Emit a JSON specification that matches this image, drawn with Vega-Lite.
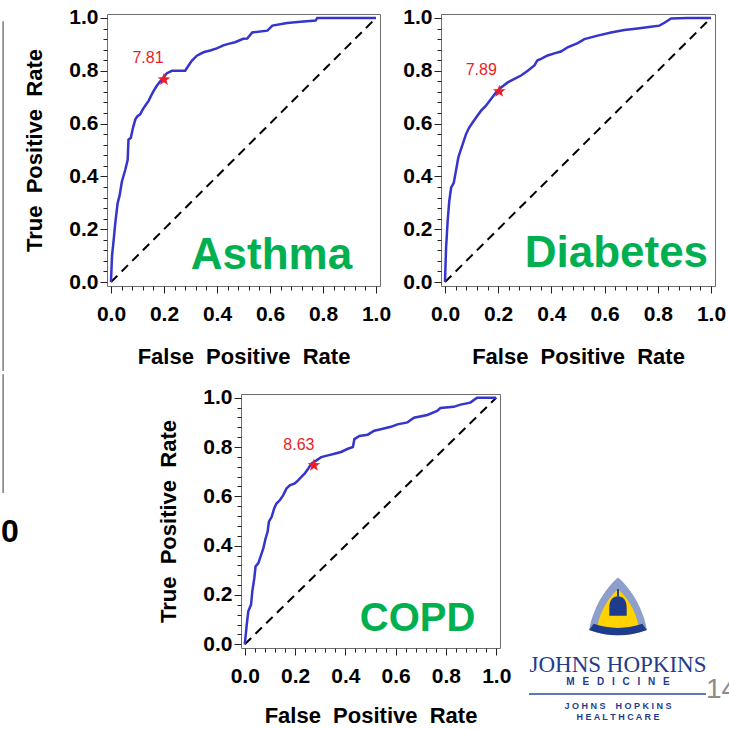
{
  "$schema": "https://vega.github.io/schema/vega-lite/v6.json",
  "background": "white",
  "padding": {"left": 0, "top": 6, "right": 0, "bottom": 0},
  "config": {
    "view": {"stroke": null},
    "font": "Liberation Sans",
    "axis": {
      "labelFont": "Liberation Sans", "labelFontSize": 21, "labelFontWeight": "bold", "labelColor": "black",
      "titleFont": "Liberation Sans", "titleFontSize": 22, "titleFontWeight": "bold", "titleColor": "black",
      "domain": false, "grid": false, "tickColor": "#222222", "tickWidth": 1, "labelFlush": false, "labelOverlap": false
    }
  },
  "datasets": {
    "diag": [{"fpr": 0, "tpr": 0}, {"fpr": 1, "tpr": 1}],
    "asthma": [
      {"fpr":0,"tpr":0},{"fpr":0.004,"tpr":0.1},{"fpr":0.01,"tpr":0.158},{"fpr":0.016,"tpr":0.221},{"fpr":0.025,"tpr":0.298},
      {"fpr":0.033,"tpr":0.33},{"fpr":0.041,"tpr":0.38},{"fpr":0.054,"tpr":0.425},{"fpr":0.063,"tpr":0.463},{"fpr":0.066,"tpr":0.539},
      {"fpr":0.075,"tpr":0.546},{"fpr":0.083,"tpr":0.584},{"fpr":0.092,"tpr":0.616},{"fpr":0.1,"tpr":0.628},{"fpr":0.11,"tpr":0.635},
      {"fpr":0.12,"tpr":0.654},{"fpr":0.133,"tpr":0.673},{"fpr":0.142,"tpr":0.686},{"fpr":0.151,"tpr":0.705},{"fpr":0.161,"tpr":0.724},
      {"fpr":0.173,"tpr":0.743},{"fpr":0.192,"tpr":0.768},{"fpr":0.211,"tpr":0.791},{"fpr":0.23,"tpr":0.8},{"fpr":0.28,"tpr":0.8},
      {"fpr":0.292,"tpr":0.819},{"fpr":0.305,"tpr":0.838},{"fpr":0.324,"tpr":0.857},{"fpr":0.349,"tpr":0.87},{"fpr":0.374,"tpr":0.877},
      {"fpr":0.399,"tpr":0.885},{"fpr":0.424,"tpr":0.896},{"fpr":0.443,"tpr":0.902},{"fpr":0.468,"tpr":0.908},{"fpr":0.499,"tpr":0.921},
      {"fpr":0.514,"tpr":0.922},{"fpr":0.533,"tpr":0.945},{"fpr":0.59,"tpr":0.952},{"fpr":0.609,"tpr":0.971},{"fpr":0.665,"tpr":0.981},
      {"fpr":0.715,"tpr":0.986},{"fpr":0.772,"tpr":0.99},{"fpr":0.778,"tpr":1},{"fpr":1,"tpr":1}
    ],
    "diabetes": [
      {"fpr":0,"tpr":0},{"fpr":0.004,"tpr":0.128},{"fpr":0.01,"tpr":0.23},{"fpr":0.016,"tpr":0.306},{"fpr":0.023,"tpr":0.357},
      {"fpr":0.033,"tpr":0.376},{"fpr":0.041,"tpr":0.42},{"fpr":0.05,"tpr":0.471},{"fpr":0.06,"tpr":0.503},{"fpr":0.066,"tpr":0.52},
      {"fpr":0.079,"tpr":0.56},{"fpr":0.091,"tpr":0.585},{"fpr":0.104,"tpr":0.604},{"fpr":0.117,"tpr":0.623},{"fpr":0.135,"tpr":0.648},
      {"fpr":0.154,"tpr":0.668},{"fpr":0.173,"tpr":0.693},{"fpr":0.192,"tpr":0.718},{"fpr":0.211,"tpr":0.737},{"fpr":0.236,"tpr":0.756},
      {"fpr":0.261,"tpr":0.769},{"fpr":0.286,"tpr":0.782},{"fpr":0.311,"tpr":0.8},{"fpr":0.336,"tpr":0.82},{"fpr":0.348,"tpr":0.84},
      {"fpr":0.361,"tpr":0.845},{"fpr":0.386,"tpr":0.858},{"fpr":0.411,"tpr":0.866},{"fpr":0.436,"tpr":0.873},{"fpr":0.461,"tpr":0.889},
      {"fpr":0.499,"tpr":0.905},{"fpr":0.524,"tpr":0.92},{"fpr":0.574,"tpr":0.933},{"fpr":0.624,"tpr":0.945},{"fpr":0.674,"tpr":0.954},
      {"fpr":0.724,"tpr":0.96},{"fpr":0.774,"tpr":0.967},{"fpr":0.806,"tpr":0.971},{"fpr":0.825,"tpr":0.982},{"fpr":0.85,"tpr":0.998},
      {"fpr":0.912,"tpr":1},{"fpr":1,"tpr":1}
    ],
    "copd": [
      {"fpr":0,"tpr":0},{"fpr":0.008,"tpr":0.081},{"fpr":0.014,"tpr":0.134},{"fpr":0.025,"tpr":0.161},{"fpr":0.03,"tpr":0.215},
      {"fpr":0.038,"tpr":0.269},{"fpr":0.043,"tpr":0.316},{"fpr":0.054,"tpr":0.329},{"fpr":0.065,"tpr":0.363},{"fpr":0.074,"tpr":0.39},
      {"fpr":0.083,"tpr":0.43},{"fpr":0.091,"tpr":0.457},{"fpr":0.096,"tpr":0.497},{"fpr":0.107,"tpr":0.517},{"fpr":0.117,"tpr":0.551},
      {"fpr":0.126,"tpr":0.571},{"fpr":0.14,"tpr":0.585},{"fpr":0.153,"tpr":0.605},{"fpr":0.166,"tpr":0.632},{"fpr":0.179,"tpr":0.645},
      {"fpr":0.199,"tpr":0.652},{"fpr":0.212,"tpr":0.665},{"fpr":0.225,"tpr":0.679},{"fpr":0.238,"tpr":0.692},{"fpr":0.252,"tpr":0.712},
      {"fpr":0.265,"tpr":0.733},{"fpr":0.285,"tpr":0.746},{"fpr":0.304,"tpr":0.759},{"fpr":0.331,"tpr":0.766},{"fpr":0.357,"tpr":0.773},
      {"fpr":0.383,"tpr":0.78},{"fpr":0.41,"tpr":0.793},{"fpr":0.43,"tpr":0.8},{"fpr":0.436,"tpr":0.832},{"fpr":0.456,"tpr":0.845},
      {"fpr":0.489,"tpr":0.85},{"fpr":0.515,"tpr":0.866},{"fpr":0.541,"tpr":0.872},{"fpr":0.581,"tpr":0.882},{"fpr":0.607,"tpr":0.892},
      {"fpr":0.647,"tpr":0.9},{"fpr":0.673,"tpr":0.919},{"fpr":0.726,"tpr":0.93},{"fpr":0.765,"tpr":0.946},{"fpr":0.778,"tpr":0.958},
      {"fpr":0.831,"tpr":0.963},{"fpr":0.858,"tpr":0.972},{"fpr":0.897,"tpr":0.98},{"fpr":0.924,"tpr":1},{"fpr":1,"tpr":1}
    ]
  },
  "spacing": 0,
  "vconcat": [
    {
      "bounds": "flush",
      "spacing": 61,
      "hconcat": [
        {
          "width": 273, "height": 272,
          "view": {"stroke": "#6e6e6e", "strokeWidth": 1},
          "resolve": {"axis": {"x": "independent", "y": "independent"}},
          "layer": [
            {
              "data": {"name": "diag"},
              "mark": {"type": "line", "color": "black", "strokeWidth": 2, "strokeDash": [9, 6]},
              "encoding": {
                "x": {"field": "fpr", "type": "quantitative", "scale": {"domain": [-0.015, 1.015], "nice": false, "zero": false},
                  "axis": {"orient": "bottom", "values": [0, 0.2, 0.4, 0.6, 0.8, 1], "format": ".1f", "tickSize": 7,
                    "labelPadding": 10, "titlePadding": 22, "title": "False\u00a0 Positive\u00a0 Rate"}},
                "y": {"field": "tpr", "type": "quantitative", "scale": {"domain": [-0.015, 1.015], "nice": false, "zero": false},
                  "axis": {"orient": "left", "values": [0, 0.2, 0.4, 0.6, 0.8, 1], "format": ".1f", "tickSize": 7,
                    "labelPadding": 2, "titlePadding": 22, "title": "True\u00a0 Positive\u00a0 Rate"}}
              }
            },
            {
              "data": {"name": "asthma"},
              "mark": {"type": "line", "color": "#3535cc", "strokeWidth": 2.5},
              "encoding": {
                "x": {"field": "fpr", "type": "quantitative",
                  "axis": {"orient": "bottom", "values": [0.04,0.08,0.12,0.16,0.24,0.28,0.32,0.36,0.44,0.48,0.52,0.56,0.64,0.68,0.72,0.76,0.84,0.88,0.92,0.96], "labels": false, "tickSize": 4, "title": null}},
                "y": {"field": "tpr", "type": "quantitative",
                  "axis": {"orient": "left", "values": [0.04,0.08,0.12,0.16,0.24,0.28,0.32,0.36,0.44,0.48,0.52,0.56,0.64,0.68,0.72,0.76,0.84,0.88,0.92,0.96], "labels": false, "tickSize": 4, "title": null}}
              }
            },
            {
              "data": {"values": [{"fpr": 0.2, "tpr": 0.767, "cut": "7.81"}]},
              "layer": [
                {"mark": {"type": "point", "shape": "M0,-1L0.235,-0.324L0.951,-0.309L0.38,0.124L0.588,0.809L0,0.4L-0.588,0.809L-0.38,0.124L-0.951,-0.309L-0.235,-0.324Z", "filled": true, "color": "#ee1c25", "size": 180, "opacity": 1},
                  "encoding": {"x": {"field": "fpr", "type": "quantitative", "axis": null}, "y": {"field": "tpr", "type": "quantitative", "axis": null}}},
                {"mark": {"type": "text", "color": "#ee1c25", "fontSize": 16, "dx": -16, "dy": -21, "baseline": "middle", "align": "center"},
                  "encoding": {"x": {"field": "fpr", "type": "quantitative", "axis": null}, "y": {"field": "tpr", "type": "quantitative", "axis": null}, "text": {"field": "cut"}}}
              ]
            },
            {
              "data": {"values": [{"name": "Asthma"}]},
              "mark": {"type": "text", "color": "#00b050", "fontSize": 44, "fontWeight": "bold", "align": "right", "baseline": "alphabetic"},
              "encoding": {"x": {"datum": 0.91, "type": "quantitative", "axis": null}, "y": {"datum": 0.05, "type": "quantitative", "axis": null}, "text": {"field": "name"}}
            },
            {
              "data": {"values": [{"edge": "left"}]},
              "mark": {"type": "rule", "color": "#7a7a7a", "strokeWidth": 1.5},
              "encoding": {"x": {"datum": -0.407, "type": "quantitative", "axis": null}, "y": {"datum": 0.988, "type": "quantitative", "axis": null}, "y2": {"datum": -0.337}}
            }
          ]
        },
        {
          "width": 274, "height": 272,
          "view": {"stroke": "#6e6e6e", "strokeWidth": 1},
          "resolve": {"axis": {"x": "independent", "y": "independent"}},
          "layer": [
            {
              "data": {"name": "diag"},
              "mark": {"type": "line", "color": "black", "strokeWidth": 2, "strokeDash": [9, 6]},
              "encoding": {
                "x": {"field": "fpr", "type": "quantitative", "scale": {"domain": [-0.015, 1.015], "nice": false, "zero": false},
                  "axis": {"orient": "bottom", "values": [0, 0.2, 0.4, 0.6, 0.8, 1], "format": ".1f", "tickSize": 7,
                    "labelPadding": 10, "titlePadding": 22, "title": "False\u00a0 Positive\u00a0 Rate"}},
                "y": {"field": "tpr", "type": "quantitative", "scale": {"domain": [-0.015, 1.015], "nice": false, "zero": false},
                  "axis": {"orient": "left", "values": [0, 0.2, 0.4, 0.6, 0.8, 1], "format": ".1f", "tickSize": 7,
                    "labelPadding": 2, "title": null}}
              }
            },
            {
              "data": {"name": "diabetes"},
              "mark": {"type": "line", "color": "#3535cc", "strokeWidth": 2.5},
              "encoding": {
                "x": {"field": "fpr", "type": "quantitative",
                  "axis": {"orient": "bottom", "values": [0.04,0.08,0.12,0.16,0.24,0.28,0.32,0.36,0.44,0.48,0.52,0.56,0.64,0.68,0.72,0.76,0.84,0.88,0.92,0.96], "labels": false, "tickSize": 4, "title": null}},
                "y": {"field": "tpr", "type": "quantitative",
                  "axis": {"orient": "left", "values": [0.04,0.08,0.12,0.16,0.24,0.28,0.32,0.36,0.44,0.48,0.52,0.56,0.64,0.68,0.72,0.76,0.84,0.88,0.92,0.96], "labels": false, "tickSize": 4, "title": null}}
              }
            },
            {
              "data": {"values": [{"fpr": 0.204, "tpr": 0.722, "cut": "7.89"}]},
              "layer": [
                {"mark": {"type": "point", "shape": "M0,-1L0.235,-0.324L0.951,-0.309L0.38,0.124L0.588,0.809L0,0.4L-0.588,0.809L-0.38,0.124L-0.951,-0.309L-0.235,-0.324Z", "filled": true, "color": "#ee1c25", "size": 180, "opacity": 1},
                  "encoding": {"x": {"field": "fpr", "type": "quantitative", "axis": null}, "y": {"field": "tpr", "type": "quantitative", "axis": null}}},
                {"mark": {"type": "text", "color": "#ee1c25", "fontSize": 16, "dx": -18, "dy": -21, "baseline": "middle", "align": "center"},
                  "encoding": {"x": {"field": "fpr", "type": "quantitative", "axis": null}, "y": {"field": "tpr", "type": "quantitative", "axis": null}, "text": {"field": "cut"}}}
              ]
            },
            {
              "data": {"values": [{"name": "Diabetes"}]},
              "mark": {"type": "text", "color": "#00b050", "fontSize": 44, "fontWeight": "bold", "align": "right", "baseline": "alphabetic"},
              "encoding": {"x": {"datum": 0.989, "type": "quantitative", "axis": null}, "y": {"datum": 0.057, "type": "quantitative", "axis": null}, "text": {"field": "name"}}
            }
          ]
        }
      ]
    },
    {
      "bounds": "flush",
      "spacing": 26,
      "hconcat": [
        {
          "width": 108, "height": 10,
          "data": {"values": [{"a": 1}]},
          "mark": {"type": "point", "opacity": 0},
          "encoding": {}
        },
        {
          "width": 259, "height": 254,
          "view": {"stroke": "#6e6e6e", "strokeWidth": 1},
          "resolve": {"axis": {"x": "independent", "y": "independent"}},
          "layer": [
            {
              "data": {"name": "diag"},
              "mark": {"type": "line", "color": "black", "strokeWidth": 2, "strokeDash": [9, 6]},
              "encoding": {
                "x": {"field": "fpr", "type": "quantitative", "scale": {"domain": [-0.015, 1.015], "nice": false, "zero": false},
                  "axis": {"orient": "bottom", "values": [0, 0.2, 0.4, 0.6, 0.8, 1], "format": ".1f", "tickSize": 7,
                    "labelPadding": 10, "titlePadding": 19, "title": "False\u00a0 Positive\u00a0 Rate"}},
                "y": {"field": "tpr", "type": "quantitative", "scale": {"domain": [-0.015, 1.015], "nice": false, "zero": false},
                  "axis": {"orient": "left", "values": [0, 0.2, 0.4, 0.6, 0.8, 1], "format": ".1f", "tickSize": 7,
                    "labelPadding": 2, "titlePadding": 22, "title": "True\u00a0 Positive\u00a0 Rate"}}
              }
            },
            {
              "data": {"name": "copd"},
              "mark": {"type": "line", "color": "#3535cc", "strokeWidth": 2.5},
              "encoding": {
                "x": {"field": "fpr", "type": "quantitative",
                  "axis": {"orient": "bottom", "values": [0.04,0.08,0.12,0.16,0.24,0.28,0.32,0.36,0.44,0.48,0.52,0.56,0.64,0.68,0.72,0.76,0.84,0.88,0.92,0.96], "labels": false, "tickSize": 4, "title": null}},
                "y": {"field": "tpr", "type": "quantitative",
                  "axis": {"orient": "left", "values": [0.04,0.08,0.12,0.16,0.24,0.28,0.32,0.36,0.44,0.48,0.52,0.56,0.64,0.68,0.72,0.76,0.84,0.88,0.92,0.96], "labels": false, "tickSize": 4, "title": null}}
              }
            },
            {
              "data": {"values": [{"fpr": 0.275, "tpr": 0.726, "cut": "8.63"}]},
              "layer": [
                {"mark": {"type": "point", "shape": "M0,-1L0.235,-0.324L0.951,-0.309L0.38,0.124L0.588,0.809L0,0.4L-0.588,0.809L-0.38,0.124L-0.951,-0.309L-0.235,-0.324Z", "filled": true, "color": "#ee1c25", "size": 180, "opacity": 1},
                  "encoding": {"x": {"field": "fpr", "type": "quantitative", "axis": null}, "y": {"field": "tpr", "type": "quantitative", "axis": null}}},
                {"mark": {"type": "text", "color": "#ee1c25", "fontSize": 16, "dx": -15, "dy": -20, "baseline": "middle", "align": "center"},
                  "encoding": {"x": {"field": "fpr", "type": "quantitative", "axis": null}, "y": {"field": "tpr", "type": "quantitative", "axis": null}, "text": {"field": "cut"}}}
              ]
            },
            {
              "data": {"values": [{"name": "COPD"}]},
              "mark": {"type": "text", "color": "#00b050", "fontSize": 40, "fontWeight": "bold", "align": "right", "baseline": "alphabetic"},
              "encoding": {"x": {"datum": 0.917, "type": "quantitative", "axis": null}, "y": {"datum": 0.052, "type": "quantitative", "axis": null}, "text": {"field": "name"}}
            },
            {
              "data": {"values": [{"edge": "left"}]},
              "mark": {"type": "rule", "color": "#7a7a7a", "strokeWidth": 1.5},
              "encoding": {"x": {"datum": -0.961, "type": "quantitative", "axis": null}, "y": {"datum": 1.095, "type": "quantitative", "axis": null}, "y2": {"datum": 0.614}}
            },
            {
              "data": {"values": [{"t": "0"}]},
              "mark": {"type": "text", "color": "black", "fontSize": 32, "fontWeight": "bold", "align": "left", "baseline": "middle"},
              "encoding": {"x": {"datum": -0.969, "type": "quantitative", "axis": null}, "y": {"datum": 0.454, "type": "quantitative", "axis": null}, "text": {"field": "t"}}
            }
          ]
        },
        {
          "width": 200, "height": 331,
          "data": {"values": [{"a": 1}]},
          "layer": [
            {"mark": {"type": "point", "shape": "M0,-1C0.35,-0.7 0.8,-0.1 0.95,0.72C0.35,0.95 -0.35,0.95 -0.95,0.72C-0.8,-0.1 -0.35,-0.7 0,-1Z", "filled": true, "color": "#8e9fcc", "size": 3700, "opacity": 1},
              "encoding": {"x": {"datum": 92, "type": "quantitative", "scale": {"domain": [0, 200], "nice": false, "zero": false}, "axis": null},
                "y": {"datum": 214, "type": "quantitative", "scale": {"domain": [0, 331], "nice": false, "zero": false, "reverse": true}, "axis": null}}},
            {"mark": {"type": "point", "shape": "M0,-1C0.35,-0.7 0.8,-0.1 0.95,0.72C0.35,0.95 -0.35,0.95 -0.95,0.72C-0.8,-0.1 -0.35,-0.7 0,-1Z", "filled": true, "color": "#ffd200", "size": 1900, "opacity": 1},
              "encoding": {"x": {"datum": 92, "type": "quantitative"}, "y": {"datum": 217, "type": "quantitative"}}},
            {"mark": {"type": "point", "shape": "M-0.95,0.72C-0.35,0.95 0.35,0.95 0.95,0.72L0.8,0.52C0.3,0.7 -0.3,0.7 -0.8,0.52Z", "filled": true, "color": "#1f3c8c", "size": 3700, "opacity": 1},
              "encoding": {"x": {"datum": 92, "type": "quantitative"}, "y": {"datum": 214, "type": "quantitative"}}},
            {"mark": {"type": "point", "shape": "M-0.55,0.75L-0.55,0.25C-0.55,-0.3 -0.3,-0.45 0,-0.5C0.3,-0.45 0.55,-0.3 0.55,0.25L0.55,0.75Z M-0.06,-0.5L-0.06,-0.95L0.06,-0.95L0.06,-0.5Z", "filled": true, "color": "#1f3c8c", "size": 1000, "opacity": 1},
              "encoding": {"x": {"datum": 92, "type": "quantitative"}, "y": {"datum": 210, "type": "quantitative"}}},
            {"mark": {"type": "text", "text": "JOHNS HOPKINS", "font": "Liberation Serif", "fontSize": 23, "color": "#1f3c8c", "align": "center", "baseline": "alphabetic"},
              "encoding": {"x": {"datum": 92, "type": "quantitative"}, "y": {"datum": 278, "type": "quantitative"}}},
            {"mark": {"type": "text", "text": "M\u2002\u00a0E\u2002\u00a0D\u2002\u00a0I\u2002\u00a0C\u2002\u00a0I\u2002\u00a0N\u2002\u00a0E", "fontSize": 10, "fontWeight": "bold", "color": "#1f3c8c", "align": "center", "baseline": "middle"},
              "encoding": {"x": {"datum": 92, "type": "quantitative"}, "y": {"datum": 288, "type": "quantitative"}}},
            {"mark": {"type": "rule", "color": "#2b4c9b", "strokeWidth": 1.5},
              "encoding": {"x": {"datum": 3, "type": "quantitative"}, "x2": {"datum": 180}, "y": {"datum": 300, "type": "quantitative"}}},
            {"mark": {"type": "text", "text": "J O H N S \u00a0\u00a0 H O P K I N S", "fontSize": 9, "fontWeight": "bold", "color": "#1f3c8c", "align": "center", "baseline": "middle"},
              "encoding": {"x": {"datum": 92, "type": "quantitative"}, "y": {"datum": 312, "type": "quantitative"}}},
            {"mark": {"type": "text", "text": "H E A L T H C A R E", "fontSize": 9, "fontWeight": "bold", "color": "#1f3c8c", "align": "center", "baseline": "middle"},
              "encoding": {"x": {"datum": 92, "type": "quantitative"}, "y": {"datum": 323, "type": "quantitative"}}},
            {"mark": {"type": "text", "text": "14", "fontSize": 28, "color": "#8c8c8c", "align": "left", "baseline": "middle"},
              "encoding": {"x": {"datum": 180, "type": "quantitative"}, "y": {"datum": 296, "type": "quantitative"}}}
          ]
        }
      ]
    }
  ]
}
